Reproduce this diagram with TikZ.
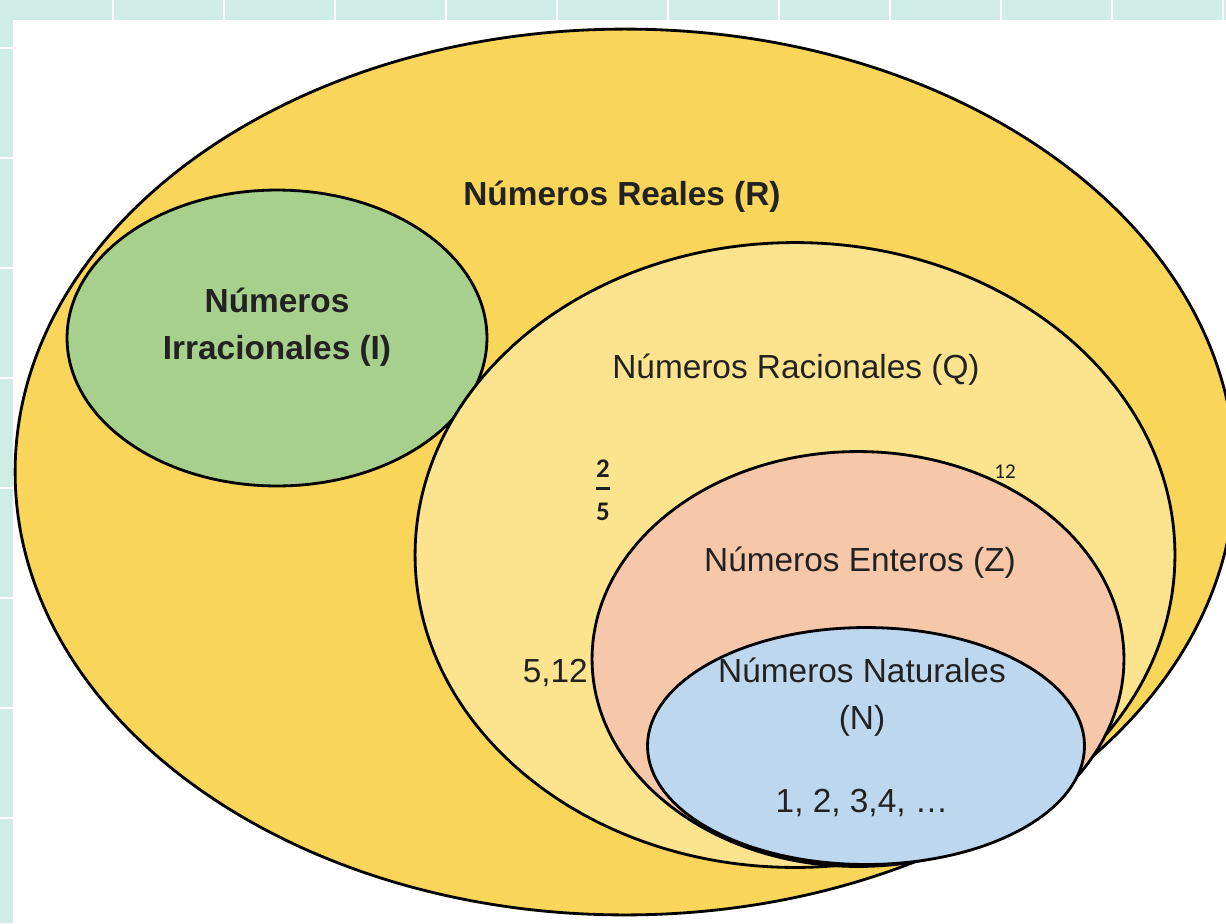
\documentclass[tikz,border=0pt]{standalone}
\usepackage{fontspec}
\setmainfont{Liberation Sans}
\newfontfamily\calibri{Carlito}
\usepackage[x11names]{xcolor}
\usepackage{tikz}
\usetikzlibrary{shapes.geometric, positioning}

\definecolor{rejilla}{RGB}{208,236,230}
\definecolor{reales}{RGB}{249,213,90}
\definecolor{irracionales}{RGB}{168,208,141}
\definecolor{racionales}{RGB}{252,227,142}
\definecolor{enteros}{RGB}{246,199,168}
\definecolor{naturales}{RGB}{189,215,238}
\definecolor{tinta}{RGB}{34,34,34}

\tikzset{
	conjunto/.style={ellipse, draw=black, line width=1.6pt, inner sep=0pt},
	etiqueta/.style={text=tinta, align=center, font=\fontsize{19}{27}\selectfont},
	negrita/.style={etiqueta, font=\fontsize{19}{27}\selectfont\bfseries},
	cifra/.style={text=tinta!90!black, align=center, font=\calibri\fontsize{15.3}{12.2}\selectfont\bfseries}
}

\begin{document}
\begin{tikzpicture}[x=0.02cm, y=-0.02cm]%, every node/.style={draw=black!20}]
	\useasboundingbox (0,0) rectangle (1226,923);
	% fondo con rejilla
	\fill[rejilla] (0,0) rectangle (1226,923);
	\fill[white] (13,20) rectangle (1226,923);
	\foreach \x in {113,224,...,1226}
		\draw[white, line width=1.5pt] (\x,0) -- (\x,20);
	\foreach \y in {48,158,...,923}
		\draw[white, line width=1.5pt] (0,\y) -- (13,\y);
	%
	\begin{scope}
		\clip (13,20) rectangle (1226,923);
		\node[conjunto, fill=reales, minimum width=24.4cm, minimum height=17.72cm] (R) at (625,472) {};
		%
		\node[conjunto, fill=irracionales, minimum width=8.4cm, minimum height=5.92cm] (I) at (277,338) {};
		%
		\node[conjunto, fill=racionales, minimum width=15.2cm, minimum height=12.5cm] (Q) at (795,555) {};
		%
		\node[conjunto, fill=enteros, minimum width=10.64cm, minimum height=8.3cm] (Z) at (858,659) {};
		%
		\node[conjunto, fill=naturales, minimum width=8.74cm, minimum height=4.74cm] (N) at (866,746) {};
	\end{scope}
	%
	\node[negrita] (textoR) at (622,197) {Números Reales (R)};
	\node[negrita] (textoI) at (277,327) {Números\\Irracionales (I)};
	\node[etiqueta] (textoQ) at (796,370) {Números Racionales (Q)};
	\node[etiqueta] (textoZ) at (860,563) {Números Enteros (Z)};
	\node[etiqueta] (textoN) at (862,697) {Números Naturales\\(N)};
	\node[etiqueta] (elemN) at (862,803) {1, 2, 3,4, \dots};
	\node[etiqueta, anchor=east] (elemQ) at (594,673) {5,12};
	%
	\node[cifra] (fraccion) at (603,490) {2\\\rule[5.2pt]{7.6pt}{1.7pt}\\5};
	\node[cifra, font=\calibri\fontsize{12}{12}\selectfont] (doce) at (1005,472) {12};
\end{tikzpicture}
\end{document}
